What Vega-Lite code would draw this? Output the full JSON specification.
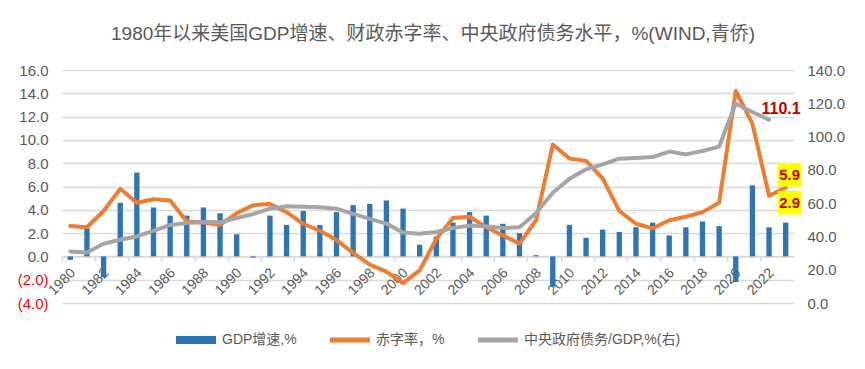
{
  "$schema": "https://vega.github.io/schema/vega-lite/v6.json",
  "width": 732,
  "height": 233,
  "autosize": {"type": "none"},
  "padding": {"left": 62, "top": 70, "right": 71, "bottom": 66},
  "background": "white",
  "config": {"font": "Liberation Sans, Noto Sans CJK SC", "view": {"stroke": null}},
  "title": {"text": "1980年以来美国GDP增速、财政赤字率、中央政府债务水平，%(WIND,青侨)", "fontSize": 19, "fontWeight": "normal", "color": "#595959", "offset": 19, "dx": 5, "anchor": "middle"},
  "data": {"values": [
    {"year": 1980, "gdp": -0.3, "deficit": 2.6, "debt": 31.0},
    {"year": 1981, "gdp": 2.4, "deficit": 2.5, "debt": 30.4},
    {"year": 1982, "gdp": -1.8, "deficit": 3.9, "debt": 35.6},
    {"year": 1983, "gdp": 4.6, "deficit": 5.8, "debt": 38.0},
    {"year": 1984, "gdp": 7.2, "deficit": 4.6, "debt": 40.0},
    {"year": 1985, "gdp": 4.2, "deficit": 4.9, "debt": 43.4},
    {"year": 1986, "gdp": 3.5, "deficit": 4.8, "debt": 46.9},
    {"year": 1987, "gdp": 3.5, "deficit": 3.0, "debt": 48.1},
    {"year": 1988, "gdp": 4.2, "deficit": 2.9, "debt": 48.7},
    {"year": 1989, "gdp": 3.7, "deficit": 2.7, "debt": 48.5},
    {"year": 1990, "gdp": 1.9, "deficit": 3.7, "debt": 51.1},
    {"year": 1991, "gdp": -0.1, "deficit": 4.4, "debt": 53.5},
    {"year": 1992, "gdp": 3.5, "deficit": 4.5, "debt": 56.7},
    {"year": 1993, "gdp": 2.7, "deficit": 3.8, "debt": 58.1},
    {"year": 1994, "gdp": 3.9, "deficit": 2.8, "debt": 57.9},
    {"year": 1995, "gdp": 2.7, "deficit": 2.2, "debt": 57.5},
    {"year": 1996, "gdp": 3.8, "deficit": 1.4, "debt": 56.7},
    {"year": 1997, "gdp": 4.4, "deficit": 0.3, "debt": 53.5},
    {"year": 1998, "gdp": 4.5, "deficit": -0.7, "debt": 50.5},
    {"year": 1999, "gdp": 4.8, "deficit": -1.3, "debt": 47.7},
    {"year": 2000, "gdp": 4.1, "deficit": -2.3, "debt": 42.4},
    {"year": 2001, "gdp": 1.0, "deficit": -1.2, "debt": 41.6},
    {"year": 2002, "gdp": 1.7, "deficit": 1.5, "debt": 42.7},
    {"year": 2003, "gdp": 2.9, "deficit": 3.3, "debt": 45.1},
    {"year": 2004, "gdp": 3.8, "deficit": 3.4, "debt": 46.5},
    {"year": 2005, "gdp": 3.5, "deficit": 2.5, "debt": 46.1},
    {"year": 2006, "gdp": 2.8, "deficit": 1.8, "debt": 45.1},
    {"year": 2007, "gdp": 2.0, "deficit": 1.1, "debt": 45.5},
    {"year": 2008, "gdp": 0.1, "deficit": 3.1, "debt": 54.1},
    {"year": 2009, "gdp": -2.6, "deficit": 9.6, "debt": 66.2},
    {"year": 2010, "gdp": 2.7, "deficit": 8.4, "debt": 74.6},
    {"year": 2011, "gdp": 1.6, "deficit": 8.2, "debt": 80.3},
    {"year": 2012, "gdp": 2.3, "deficit": 6.7, "debt": 83.3},
    {"year": 2013, "gdp": 2.1, "deficit": 3.9, "debt": 86.7},
    {"year": 2014, "gdp": 2.5, "deficit": 2.8, "debt": 87.1},
    {"year": 2015, "gdp": 2.9, "deficit": 2.4, "debt": 87.7},
    {"year": 2016, "gdp": 1.8, "deficit": 3.1, "debt": 91.0},
    {"year": 2017, "gdp": 2.5, "deficit": 3.4, "debt": 89.3},
    {"year": 2018, "gdp": 3.0, "deficit": 3.8, "debt": 91.3},
    {"year": 2019, "gdp": 2.6, "deficit": 4.6, "debt": 94.0},
    {"year": 2020, "gdp": -2.2, "deficit": 14.2, "debt": 119.9},
    {"year": 2021, "gdp": 6.1, "deficit": 11.4, "debt": 114.8},
    {"year": 2022, "gdp": 2.5, "deficit": 5.2, "debt": 110.1},
    {"year": 2023, "gdp": 2.9, "deficit": 5.9, "debt": null}
  ]},
  "encoding": {
    "x": {
      "field": "year", "type": "ordinal",
      "scale": {"paddingInner": 0, "paddingOuter": 0},
      "axis": {
        "title": null,
        "values": [1980,1982,1984,1986,1988,1990,1992,1994,1996,1998,2000,2002,2004,2006,2008,2010,2012,2014,2016,2018,2020,2022],
        "bandPosition": 0,
        "labelOffset": 3,
        "labelAngle": -45,
        "labelAlign": "right",
        "labelBaseline": "middle",
        "labelPadding": 9,
        "offset": -46.6,
        "domainColor": "#D9D9D9",
        "domainWidth": 1.5,
        "tickColor": "#D9D9D9",
        "tickSize": 5,
        "tickWidth": 1.5,
        "labelColor": "#595959",
        "labelFontSize": 14,
        "grid": false
      }
    }
  },
  "layer": [
    {
      "layer": [
        {
          "mark": {"type": "bar", "width": {"band": 0.32}},
          "encoding": {
            "y": {
              "field": "gdp", "type": "quantitative",
              "scale": {"domain": [-4, 16], "nice": false, "zero": false},
              "axis": {"title": null, "values": [-4,-2,0,2,4,6,8,10,12,14,16], "labelExpr": "datum.value < 0 ? '(' + format(-datum.value, '.1f') + ')' : format(datum.value, '.1f')", "labelColor": {"condition": {"test": "datum.value < 0", "value": "#FF0000"}, "value": "#595959"}, "labelFontSize": 15, "labelPadding": 14, "labelOverlap": false, "domain": false, "ticks": false, "grid": true, "gridColor": "#D9D9D9", "gridWidth": 1.5}
            },
            "color": {
              "datum": "GDP增速,%",
              "scale": {"domain": ["GDP增速,%", "赤字率，%", "中央政府债务/GDP,%(右)"], "range": ["#2E75B6", "#ED7D31", "#A5A5A5"]},
              "legend": {
                "orient": "none",
                "legendX": 114,
                "legendY": 250,
                "direction": "horizontal",
                "title": null,
                "labelFontSize": 14,
                "labelColor": "#595959",
                "symbolSize": 1600,
                "columnPadding": 33,
                "labelOffset": 6,
                "symbolType": "M-1,-0.2H1V0.2H-1Z",
                "symbolStrokeWidth": 0,
                "encode": {
                  "symbols": {
                    "update": {
                      "shape": {"signal": "datum.value === 'GDP增速,%' ? 'M-1,-0.2H1V0.2H-1Z' : 'M-1,-0.12H1V0.12H-1Z'"},
                      "fill": {"signal": "scale('color', datum.value)"},
                      "stroke": {"value": "transparent"},
                      "opacity": {"value": 1},
                      "fillOpacity": {"value": 1}
                    }
                  }
                }
              }
            }
          }
        },
        {
          "mark": {"type": "line", "strokeWidth": 4, "strokeCap": "round", "strokeJoin": "round"},
          "encoding": {
            "y": {"field": "deficit", "type": "quantitative", "scale": {"domain": [-4, 16], "nice": false, "zero": false},
              "axis": {"title": null, "values": [-4,-2,0,2,4,6,8,10,12,14,16], "labelExpr": "datum.value < 0 ? '(' + format(-datum.value, '.1f') + ')' : format(datum.value, '.1f')", "labelColor": {"condition": {"test": "datum.value < 0", "value": "#FF0000"}, "value": "#595959"}, "labelFontSize": 15, "labelPadding": 14, "labelOverlap": false, "domain": false, "ticks": false, "grid": true, "gridColor": "#D9D9D9", "gridWidth": 1.5}},
            "color": {"datum": "赤字率，%"}
          }
        },
        {
          "transform": [{"filter": "datum.year == 2023"}],
          "mark": {"type": "point", "shape": "square", "filled": true, "color": "#FFFF00", "opacity": 1, "size": 560, "xOffset": 4, "yOffset": -13},
          "encoding": {"y": {"field": "deficit", "type": "quantitative", "scale": {"domain": [-4, 16], "nice": false, "zero": false},
            "axis": {"title": null, "values": [-4,-2,0,2,4,6,8,10,12,14,16], "labelExpr": "datum.value < 0 ? '(' + format(-datum.value, '.1f') + ')' : format(datum.value, '.1f')", "labelColor": {"condition": {"test": "datum.value < 0", "value": "#FF0000"}, "value": "#595959"}, "labelFontSize": 15, "labelPadding": 14, "labelOverlap": false, "domain": false, "ticks": false, "grid": true, "gridColor": "#D9D9D9", "gridWidth": 1.5}}}
        },
        {
          "transform": [{"filter": "datum.year == 2023"}],
          "mark": {"type": "text", "fontSize": 15, "fontWeight": "bold", "color": "#C00000", "xOffset": 4, "yOffset": -13},
          "encoding": {
            "y": {"field": "deficit", "type": "quantitative", "scale": {"domain": [-4, 16], "nice": false, "zero": false},
              "axis": {"title": null, "values": [-4,-2,0,2,4,6,8,10,12,14,16], "labelExpr": "datum.value < 0 ? '(' + format(-datum.value, '.1f') + ')' : format(datum.value, '.1f')", "labelColor": {"condition": {"test": "datum.value < 0", "value": "#FF0000"}, "value": "#595959"}, "labelFontSize": 15, "labelPadding": 14, "labelOverlap": false, "domain": false, "ticks": false, "grid": true, "gridColor": "#D9D9D9", "gridWidth": 1.5}},
            "text": {"field": "deficit", "type": "quantitative", "format": ".1f"}
          }
        },
        {
          "transform": [{"filter": "datum.year == 2023"}],
          "mark": {"type": "point", "shape": "square", "filled": true, "color": "#FFFF00", "opacity": 1, "size": 560, "xOffset": 4, "yOffset": -20},
          "encoding": {"y": {"field": "gdp", "type": "quantitative", "scale": {"domain": [-4, 16], "nice": false, "zero": false},
            "axis": {"title": null, "values": [-4,-2,0,2,4,6,8,10,12,14,16], "labelExpr": "datum.value < 0 ? '(' + format(-datum.value, '.1f') + ')' : format(datum.value, '.1f')", "labelColor": {"condition": {"test": "datum.value < 0", "value": "#FF0000"}, "value": "#595959"}, "labelFontSize": 15, "labelPadding": 14, "labelOverlap": false, "domain": false, "ticks": false, "grid": true, "gridColor": "#D9D9D9", "gridWidth": 1.5}}}
        },
        {
          "transform": [{"filter": "datum.year == 2023"}],
          "mark": {"type": "text", "fontSize": 15, "fontWeight": "bold", "color": "#C00000", "xOffset": 4, "yOffset": -20},
          "encoding": {
            "y": {"field": "gdp", "type": "quantitative", "scale": {"domain": [-4, 16], "nice": false, "zero": false},
              "axis": {"title": null, "values": [-4,-2,0,2,4,6,8,10,12,14,16], "labelExpr": "datum.value < 0 ? '(' + format(-datum.value, '.1f') + ')' : format(datum.value, '.1f')", "labelColor": {"condition": {"test": "datum.value < 0", "value": "#FF0000"}, "value": "#595959"}, "labelFontSize": 15, "labelPadding": 14, "labelOverlap": false, "domain": false, "ticks": false, "grid": true, "gridColor": "#D9D9D9", "gridWidth": 1.5}},
            "text": {"field": "gdp", "type": "quantitative", "format": ".1f"}
          }
        }
      ]
    },
    {
      "layer": [
        {
          "mark": {"type": "line", "strokeWidth": 4, "strokeCap": "round", "strokeJoin": "round"},
          "encoding": {
            "y": {
              "field": "debt", "type": "quantitative",
              "scale": {"domain": [0, 140], "nice": false, "zero": false},
              "axis": {"orient": "right", "title": null, "values": [0,20,40,60,80,100,120,140], "format": ".1f", "labelFontSize": 15, "labelColor": "#595959", "labelPadding": 13, "labelOverlap": false, "domain": false, "ticks": false, "grid": false}
            },
            "color": {"datum": "中央政府债务/GDP,%(右)"}
          }
        },
        {
          "transform": [{"filter": "datum.year == 2022"}],
          "mark": {"type": "text", "fontSize": 16, "fontWeight": "bold", "color": "#C00000", "xOffset": 12, "yOffset": -11},
          "encoding": {
            "y": {"field": "debt", "type": "quantitative", "scale": {"domain": [0, 140], "nice": false, "zero": false},
              "axis": {"orient": "right", "title": null, "values": [0,20,40,60,80,100,120,140], "format": ".1f", "labelFontSize": 15, "labelColor": "#595959", "labelPadding": 13, "labelOverlap": false, "domain": false, "ticks": false, "grid": false}},
            "text": {"field": "debt", "type": "quantitative", "format": ".1f"}
          }
        }
      ]
    }
  ],
  "resolve": {"scale": {"y": "independent"}}
}
